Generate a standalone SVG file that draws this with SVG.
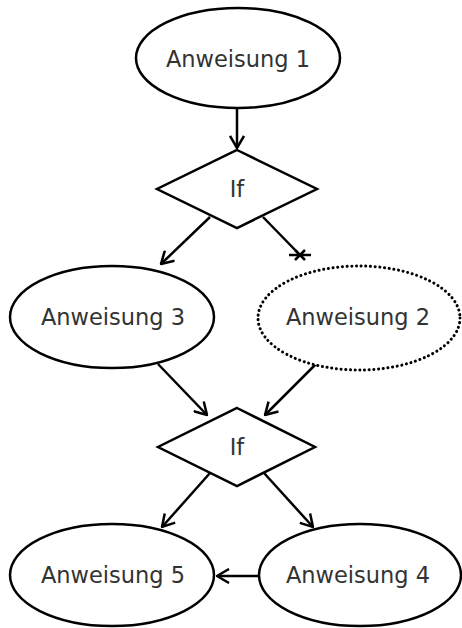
<svg xmlns="http://www.w3.org/2000/svg" width="462" height="628" viewBox="0 0 462 628">
<style>
.n{fill:#fff;stroke:#000;stroke-width:2.5}
.d{stroke-dasharray:0.1 4.6;stroke-width:3;stroke-linecap:round}
.t{font-family:"DejaVu Sans",sans-serif;font-size:22.5px;fill:#333;text-anchor:middle}
.e{fill:none;stroke:#000;stroke-width:2.5}
</style>
<defs>
<marker id="a" markerUnits="userSpaceOnUse" viewBox="0 0 14 16" refX="13" refY="8" markerWidth="14" markerHeight="16" orient="auto">
<path d="M1,1 L13,8 L1,15" fill="none" stroke="#000" stroke-width="2.5"/>
</marker>
</defs>
<g id="edges">
<line class="e" x1="237" y1="109" x2="237" y2="148" marker-end="url(#a)"/>
<line class="e" x1="210" y1="217" x2="161" y2="264" marker-end="url(#a)"/>
<line class="e" x1="263" y1="217" x2="300" y2="255"/>
<path class="e" d="M289,255 H311 M295,250 L305,260 M305,250 L295,260"/>
<line class="e" x1="158" y1="364" x2="207" y2="415" marker-end="url(#a)"/>
<line class="e" x1="316" y1="364" x2="265" y2="415" marker-end="url(#a)"/>
<line class="e" x1="210" y1="473" x2="162" y2="527" marker-end="url(#a)"/>
<line class="e" x1="264" y1="473" x2="313" y2="527" marker-end="url(#a)"/>
<line class="e" x1="258" y1="576" x2="217" y2="576" marker-end="url(#a)"/>
</g>
<g id="n1"><ellipse class="n" cx="238" cy="58" rx="102" ry="50"/><text class="t" x="238" y="67">Anweisung 1</text></g>
<g id="if1"><polygon class="n" points="237,150 317,189 237,228 157,189"/><text class="t" x="237" y="197">If</text></g>
<g id="n3"><ellipse class="n" cx="112" cy="317" rx="102" ry="51"/><text class="t" x="113" y="325">Anweisung 3</text></g>
<g id="n2"><ellipse class="n d" cx="359" cy="318" rx="101" ry="52"/><text class="t" x="358" y="325">Anweisung 2</text></g>
<g id="if2"><polygon class="n" points="237,408 315,447 237,486 158,447"/><text class="t" x="237" y="455">If</text></g>
<g id="n5"><ellipse class="n" cx="112" cy="575" rx="102" ry="51"/><text class="t" x="113" y="583">Anweisung 5</text></g>
<g id="n4"><ellipse class="n" cx="360" cy="575" rx="101" ry="51"/><text class="t" x="358" y="583">Anweisung 4</text></g>
</svg>
